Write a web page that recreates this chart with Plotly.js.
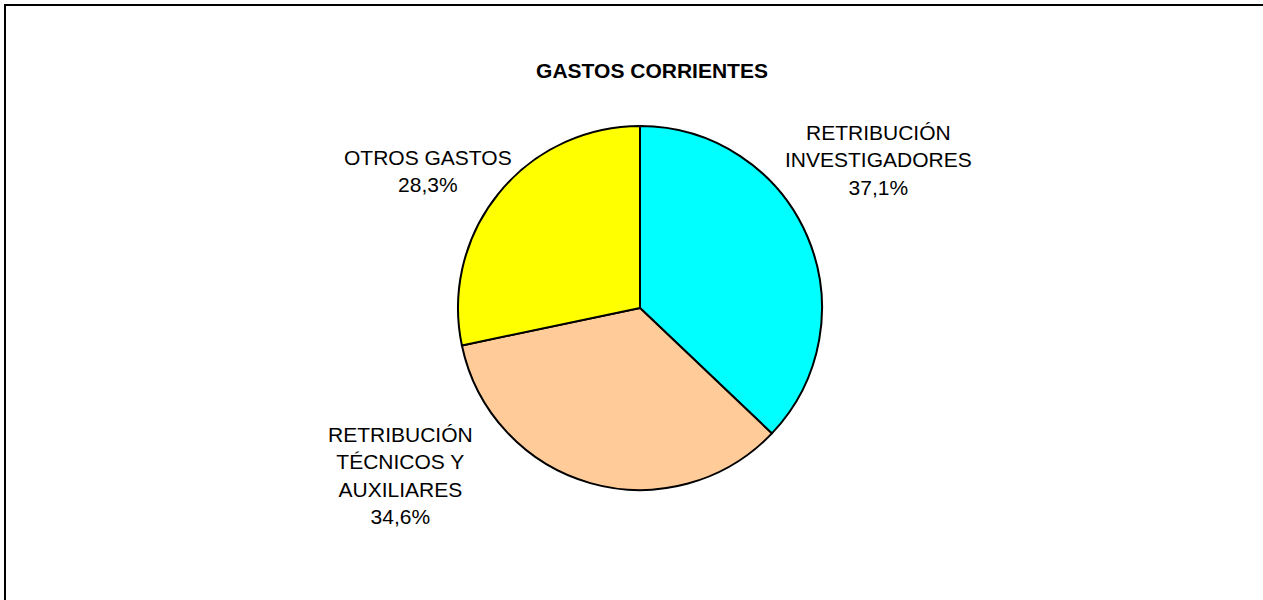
<!DOCTYPE html>
<html>
<head>
<meta charset="utf-8">
<script src="https://cdn.plot.ly/plotly-3.0.1.min.js"></script>
<style>
  html, body { margin: 0; padding: 0; background: #fff; overflow: hidden; }
  #chart { position: absolute; left: 0; top: 0; width: 1263px; height: 600px; }
  #frame { position: absolute; left: 4px; top: 4px; width: 1400px; height: 800px;
           border-left: 2px solid #000; border-top: 2px solid #000; pointer-events: none; }
</style>
</head>
<body>
<div id="chart"></div>
<div id="frame"></div>
<script>
// ---- data ----
const categories = ['RETRIBUCIÓN INVESTIGADORES', 'RETRIBUCIÓN TÉCNICOS Y AUXILIARES', 'OTROS GASTOS'];
const labelText = ['RETRIBUCIÓN<br>INVESTIGADORES', 'RETRIBUCIÓN<br>TÉCNICOS Y<br>AUXILIARES', 'OTROS GASTOS'];
const values = [37.1, 34.6, 28.3];
const sliceColors = ['#00FFFF', '#FFCC99', '#FFFF00'];
const chartTitle = 'GASTOS CORRIENTES';

// ---- layout geometry ----
const W = 1263, H = 600;
const M = { l: 17, r: 0, t: 126, b: 110 };
const pw = W - M.l - M.r, ph = H - M.t - M.b;
function px2x(px) { return (px - M.l) / pw; }
function py2y(py) { return (H - M.b - py) / ph; }
// label centre positions in pixels
const labelPos = [[878, 160], [400, 475], [428, 171]];

const font = 'Liberation Sans, Arial, sans-serif';

const annotations = categories.map((c, i) => ({
  xref: 'paper', yref: 'paper',
  x: px2x(labelPos[i][0]), y: py2y(labelPos[i][1]),
  xanchor: 'center', yanchor: 'middle', align: 'center',
  showarrow: false,
  text: labelText[i] + '<br>' + values[i].toFixed(1).replace('.', ',') + '%',
  font: { family: font, size: 21, color: '#000' }
}));

const trace = {
  type: 'pie',
  labels: categories,
  values: values,
  sort: false,
  direction: 'clockwise',
  rotation: 0,
  textinfo: 'none',
  hoverinfo: 'label+percent',
  marker: { colors: sliceColors, line: { color: '#000', width: 2 } },
  showlegend: false
};

const layout = {
  width: W, height: H,
  margin: M,
  paper_bgcolor: '#fff',
  plot_bgcolor: '#fff',
  showlegend: false,
  title: {
    text: '<b>' + chartTitle + '</b>',
    xref: 'container', yref: 'container',
    x: 652 / W, y: 1 - 71 / H,
    xanchor: 'center', yanchor: 'middle',
    font: { family: font, size: 21, color: '#000' }
  },
  annotations: annotations
};

Plotly.newPlot('chart', [trace], layout, { displayModeBar: false, staticPlot: true });
</script>
</body>
</html>
